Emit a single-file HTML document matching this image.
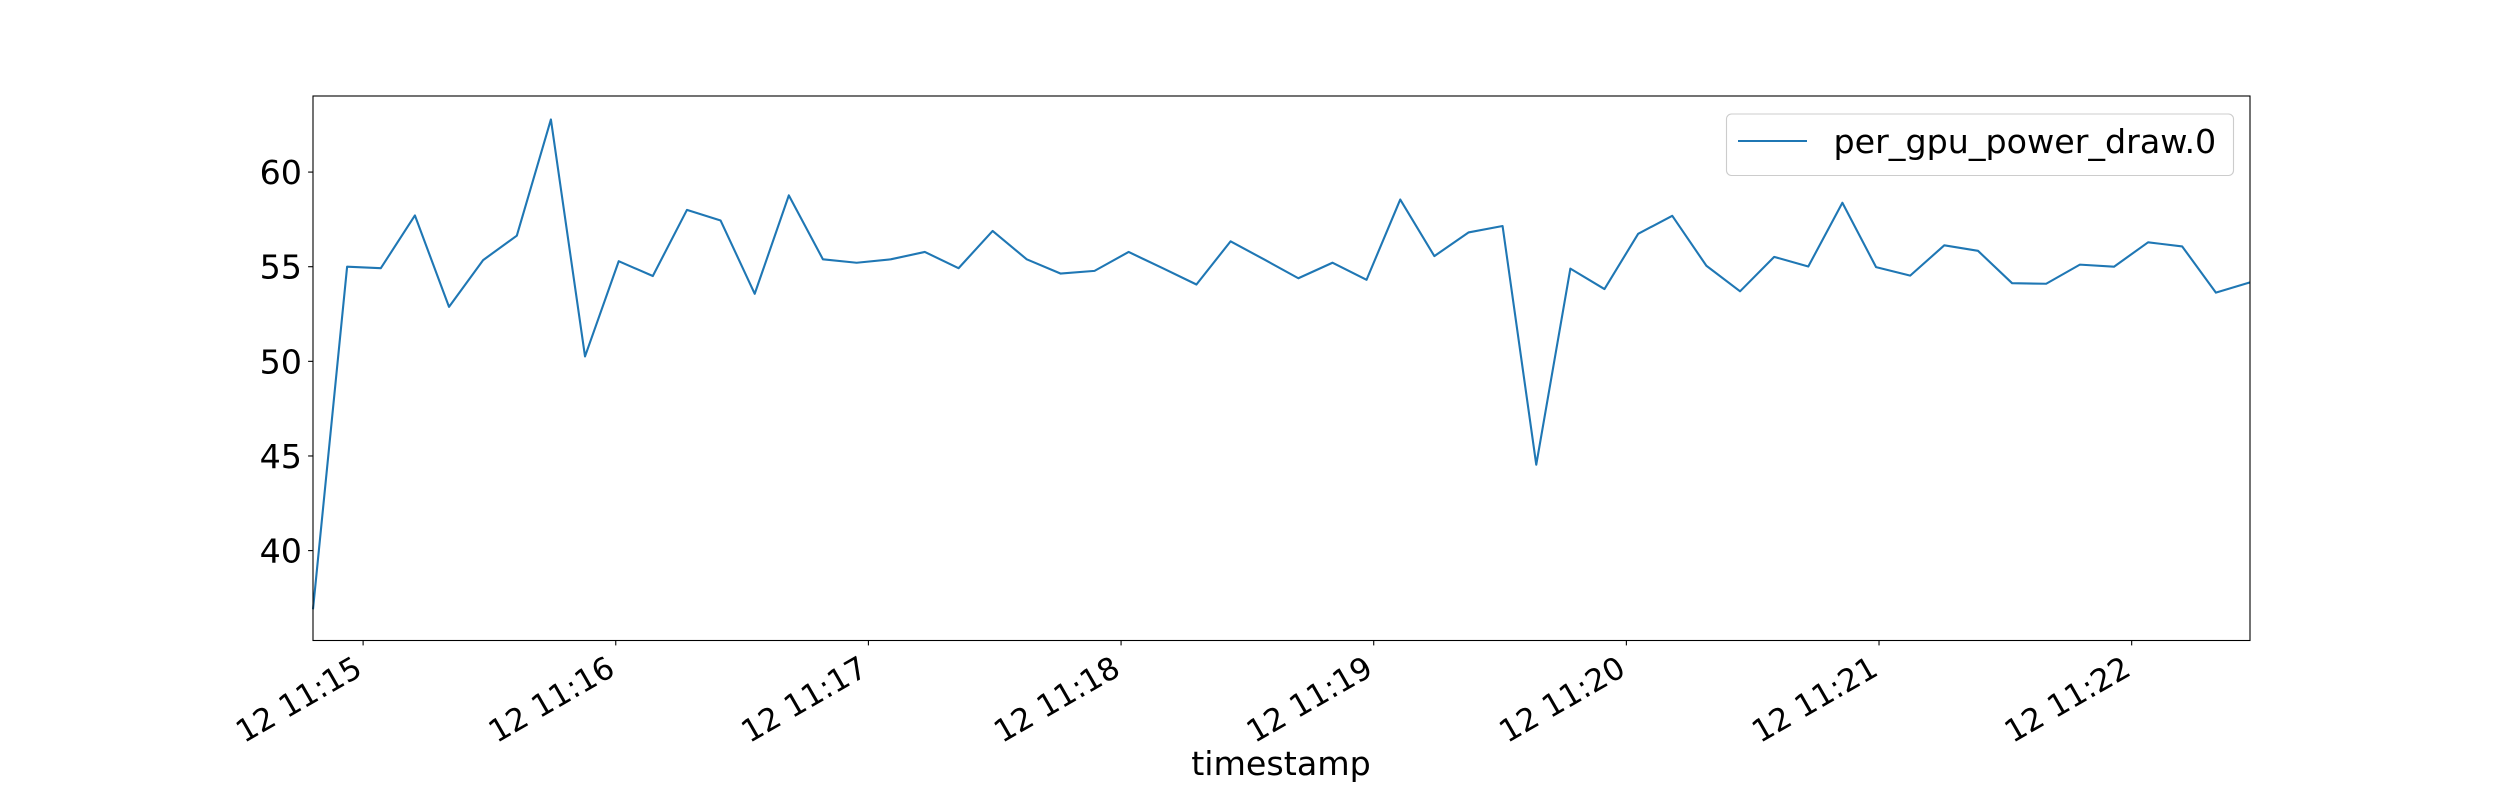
<!DOCTYPE html>
<html>
<head>
<meta charset="utf-8">
<style>
html,body{margin:0;padding:0;background:#fff;}
svg{display:block;}
text{font-family:"DejaVu Sans","Liberation Sans",sans-serif;fill:#000;}
</style>
</head>
<body>
<svg id="chart" width="2500" height="800" viewBox="0 0 2500 800" xmlns="http://www.w3.org/2000/svg">
  <rect x="0" y="0" width="2500" height="800" fill="#fff"/>
  <g id="plot"></g>
  <g id="yaxis"></g>
  <g id="xaxis"></g>
  <rect x="313" y="96" width="1937" height="544.5" fill="none" stroke="#000" stroke-width="1.1"/>
  <text x="1281" y="775" font-size="33.3" text-anchor="middle">timestamp</text>
  <g>
    <rect x="1726.5" y="114" width="507" height="61.5" rx="5" ry="5" fill="#fff" fill-opacity="0.8" stroke="#cccccc" stroke-width="1.1"/>
    <line x1="1738" y1="141" x2="1807" y2="141" stroke="#1f77b4" stroke-width="2.1"/>
    <text x="1833.5" y="153" font-size="33.3">per_gpu_power_draw.0</text>
  </g>
</svg>
<script>
// seconds after 11:00:00 on day 12
const times = [888.1, 896.2, 904.2, 912.3, 920.4, 928.5, 936.5, 944.6, 952.7, 960.7, 968.8, 976.9, 984.9, 993.0, 1001.1, 1009.2, 1017.2, 1025.3, 1033.4, 1041.4, 1049.5, 1057.6, 1065.6, 1073.7, 1081.8, 1089.9, 1097.9, 1106.0, 1114.1, 1122.1, 1130.2, 1138.3, 1146.3, 1154.4, 1162.5, 1170.6, 1178.6, 1186.7, 1194.8, 1202.8, 1210.9, 1219.0, 1227.0, 1235.1, 1243.2, 1251.3, 1259.3, 1267.4, 1275.5, 1283.5, 1291.6, 1299.7, 1307.7, 1315.8, 1323.9, 1332.0, 1340.0, 1348.1];
const power = [36.9, 55.0, 54.92, 57.71, 52.88, 55.35, 56.64, 62.78, 50.26, 55.29, 54.51, 58.0, 57.44, 53.57, 58.77, 55.39, 55.21, 55.39, 55.78, 54.92, 56.89, 55.39, 54.64, 54.78, 55.78, 54.92, 54.06, 56.34, 55.37, 54.39, 55.21, 54.31, 58.55, 55.56, 56.81, 57.15, 44.54, 54.90, 53.82, 56.74, 57.69, 55.05, 53.70, 55.52, 55.01, 58.38, 54.98, 54.53, 56.13, 55.84, 54.13, 54.10, 55.11, 55.0, 56.29, 56.07, 53.63, 54.17];
const yTicks = [40, 45, 50, 55, 60];
const xTickTimes = [900, 960, 1020, 1080, 1140, 1200, 1260, 1320];
const xTickLabels = ["12 11:15", "12 11:16", "12 11:17", "12 11:18", "12 11:19", "12 11:20", "12 11:21", "12 11:22"];

const NS = "http://www.w3.org/2000/svg";
const L = 313, R = 2250, T = 96, B = 640.5;
const xMin = times[0], xMax = times[times.length - 1];
const yMin = 35.25, yMax = 64.02;
function xs(t){ return L + (t - xMin) / (xMax - xMin) * (R - L); }
function ys(v){ return B - (v - yMin) / (yMax - yMin) * (B - T); }

const plot = document.getElementById('plot');
const pts = times.map((t, i) => xs(t).toFixed(2) + ',' + ys(power[i]).toFixed(2)).join(' ');
const line = document.createElementNS(NS, 'polyline');
line.setAttribute('points', pts);
line.setAttribute('fill', 'none');
line.setAttribute('stroke', '#1f77b4');
line.setAttribute('stroke-width', '2.1');
line.setAttribute('stroke-linejoin', 'round');


plot.appendChild(line);

const yaxis = document.getElementById('yaxis');
yTicks.forEach(v => {
  const y = ys(v);
  const tk = document.createElementNS(NS, 'line');
  tk.setAttribute('x1', L); tk.setAttribute('x2', L - 4.9);
  tk.setAttribute('y1', y); tk.setAttribute('y2', y);
  tk.setAttribute('stroke', '#000'); tk.setAttribute('stroke-width', '1.1');
  
  
  yaxis.appendChild(tk);
  const tx = document.createElementNS(NS, 'text');
  tx.setAttribute('x', 302); tx.setAttribute('y', y + 12);
  tx.setAttribute('font-size', '33.3');
  tx.setAttribute('text-anchor', 'end');
  tx.textContent = v;
  
  
  yaxis.appendChild(tx);
});

const xaxis = document.getElementById('xaxis');
xTickTimes.forEach((t, i) => {
  const x = xs(t);
  const tk = document.createElementNS(NS, 'line');
  tk.setAttribute('x1', x); tk.setAttribute('x2', x);
  tk.setAttribute('y1', B); tk.setAttribute('y2', B + 4.9);
  tk.setAttribute('stroke', '#000'); tk.setAttribute('stroke-width', '1.1');
  
  
  xaxis.appendChild(tk);
  const ax = x + 1, ay = 674;
  const tx = document.createElementNS(NS, 'text');
  tx.setAttribute('x', ax); tx.setAttribute('y', ay);
  tx.setAttribute('font-size', '31');
  tx.setAttribute('text-anchor', 'end');
  tx.setAttribute('transform', 'rotate(-30 ' + ax + ' ' + ay + ')');
  tx.textContent = xTickLabels[i];
  
  
  xaxis.appendChild(tx);
});
</script>
</body>
</html>
